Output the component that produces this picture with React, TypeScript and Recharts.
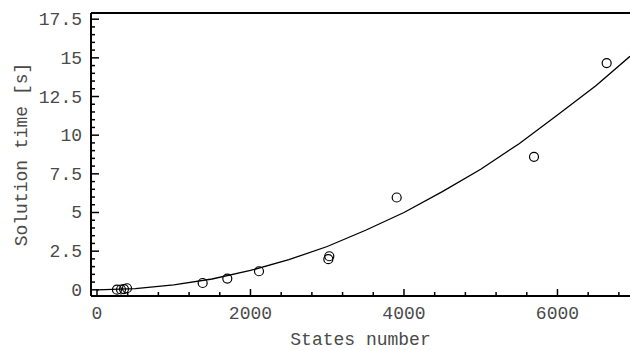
import { ComposedChart, Line, Scatter, XAxis, YAxis, ReferenceLine } from "recharts"

// measured points (states, seconds)
const STATES = [260, 313, 352, 391, 1377, 1698, 2111, 3014, 3027, 3905, 5694, 6641]
const TIMES = [0.01, 0.02, 0.05, 0.1, 0.44, 0.73, 1.2, 1.98, 2.17, 5.97, 8.6, 14.66]

// fitted curve
const FIT_STATES = [0, 500, 1000, 1500, 2000, 2500, 3000, 3500, 4000, 4500, 5000, 5500, 6000, 6500, 6945]
const FIT_TIMES = [0, 0.08, 0.32, 0.7, 1.25, 1.95, 2.8, 3.85, 5.0, 6.35, 7.8, 9.45, 11.3, 13.2, 15.1]

const X_TICKS = [0, 400, 800, 1200, 1600, 2000, 2400, 2800, 3200, 3600, 4000, 4400, 4800, 5200, 5600, 6000, 6400, 6800]
const X_LABELS = [0, 2000, 4000, 6000]
const Y_TICKS = [0, 0.5, 1, 1.5, 2, 2.5, 3, 3.5, 4, 4.5, 5, 5.5, 6, 6.5, 7, 7.5, 8, 8.5, 9, 9.5, 10, 10.5, 11, 11.5, 12, 12.5, 13, 13.5, 14, 14.5, 15, 15.5, 16, 16.5, 17, 17.5]
const Y_LABELS = [0, 2.5, 5, 7.5, 10, 12.5, 15, 17.5]

const X_MIN = -78
const X_MAX = 6945
const Y_MIN = -0.4
const Y_MAX = 17.9

const FONT = "'Liberation Mono', 'DejaVu Sans Mono', monospace"
const INK = "#4a4a4a"

const points = STATES.map((x, i) => ({ x, y: TIMES[i] }))
const fit = FIT_STATES.map((x, i) => ({ x, y: FIT_TIMES[i] }))

function XTick({ x, y, payload }: any) {
  const major = X_LABELS.includes(payload.value)
  return (
    <g>
      <line x1={x} y1={y} x2={x} y2={y - (major ? 7 : 4)} stroke="#000" strokeWidth={1.5} />
      {major && (
        <text x={x} y={y + 23} textAnchor="middle" fontFamily={FONT} fontSize={18} fill={INK}>
          {payload.value}
        </text>
      )}
    </g>
  )
}

function YTick({ x, y, payload }: any) {
  const major = Y_LABELS.includes(payload.value)
  return (
    <g>
      <line x1={x} y1={y} x2={x + (major ? 8 : 4)} y2={y} stroke="#000" strokeWidth={1.5} />
      {major && (
        <text x={x - 9} y={y + 6} textAnchor="end" fontFamily={FONT} fontSize={18} fill={INK}>
          {payload.value}
        </text>
      )}
    </g>
  )
}

const ring = (p: any) => <circle cx={p.cx} cy={p.cy} r={4.5} fill="none" stroke="#000" strokeWidth={1.2} />

export default function App() {
  return (
    <div style={{ position: "absolute", left: 0, top: 0, background: "#fff" }}>
      <ComposedChart width={630} height={350} margin={{ top: 13, right: 0, bottom: 0, left: 0 }}>
        <XAxis
          type="number"
          dataKey="x"
          domain={[X_MIN, X_MAX]}
          ticks={X_TICKS}
          allowDataOverflow
          height={54}
          tickSize={0}
          tickMargin={0}
          tickLine={false}
          interval={0}
          axisLine={{ stroke: "#000", strokeWidth: 2 }}
          tick={<XTick />}
          label={{ value: "States number", position: "insideBottom", offset: 5, fontFamily: FONT, fontSize: 18, fill: INK }}
        />
        <YAxis
          type="number"
          dataKey="y"
          domain={[Y_MIN, Y_MAX]}
          ticks={Y_TICKS}
          allowDataOverflow
          width={91}
          tickSize={0}
          tickMargin={0}
          tickLine={false}
          interval={0}
          axisLine={{ stroke: "#000", strokeWidth: 2 }}
          tick={<YTick />}
          label={{ value: "Solution time [s]", angle: -90, position: "insideLeft", offset: 21, fontFamily: FONT, fontSize: 18, fill: INK, style: { textAnchor: "middle" } }}
        />
        <ReferenceLine y={Y_MAX} stroke="#000" strokeWidth={2} ifOverflow="extendDomain" />
        <Line data={fit} dataKey="y" type="linear" stroke="#000" strokeWidth={1.3} dot={false} isAnimationActive={false} />
        <Scatter data={points} dataKey="y" shape={ring} isAnimationActive={false} />
      </ComposedChart>
    </div>
  )
}
